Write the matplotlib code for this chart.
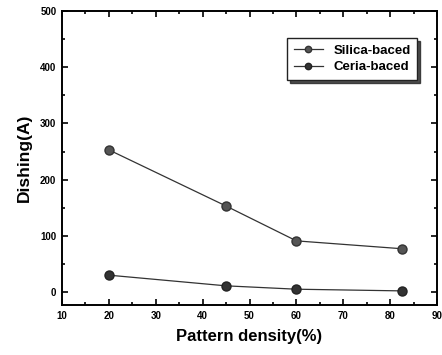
import matplotlib
matplotlib.use("Agg")
import matplotlib.pyplot as plt
from matplotlib.ticker import MultipleLocator

# data
density = [20, 45, 60, 82.5]
silica = [253, 153, 91, 77]
ceria = [30, 11, 5, 2]

plt.rcParams['font.family'] = ['Liberation Sans', 'DejaVu Sans']
plt.rcParams['font.weight'] = 'bold'

fig = plt.figure(figsize=(4.42, 3.55), dpi=100)
ax = fig.add_axes([0.140, 0.141, 0.849, 0.828])

ax.plot(density, silica, color='#333333', lw=0.9, marker='o', ms=6.5,
        mfc='#555555', mec='#333333', label='Silica-baced')
ax.plot(density, ceria, color='#333333', lw=0.9, marker='o', ms=6.5,
        mfc='#333333', mec='#222222', label='Ceria-baced')

ax.set_xlim(10, 90)
ax.set_ylim(-23, 500)
ax.xaxis.set_major_locator(MultipleLocator(10))
ax.xaxis.set_minor_locator(MultipleLocator(5))
ax.yaxis.set_major_locator(MultipleLocator(100))
ax.yaxis.set_minor_locator(MultipleLocator(50))
ax.tick_params(which='both', direction='in', top=True, right=True, width=1.2,
               labelsize=7, pad=4)
ax.tick_params(which='major', length=4)
ax.tick_params(which='minor', length=2)
for s in ax.spines.values():
    s.set_linewidth(1.4)

ax.set_xlabel('Pattern density(%)', fontsize=12, fontweight='bold', labelpad=6)
ax.set_ylabel('Dishing(A)', fontsize=12.5, fontweight='bold', labelpad=6)

leg = ax.legend(loc='upper right', bbox_to_anchor=(0.965, 0.93), fontsize=9.5,
                frameon=True, fancybox=False, shadow={'color': '#222222', 'alpha': 0.8},
                handlelength=2.2, borderpad=0.5, labelspacing=0.3, markerscale=0.7)
leg.get_frame().set_edgecolor('#222222')
leg.get_frame().set_linewidth(1.0)

fig.savefig('out.png', dpi=100)
